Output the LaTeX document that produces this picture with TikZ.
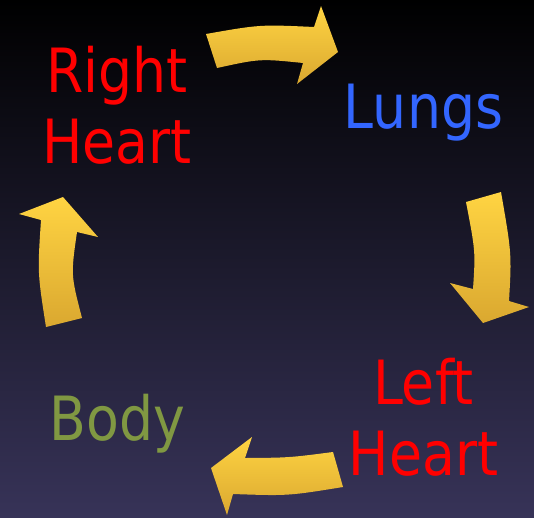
\documentclass[tikz,border=0pt]{standalone}
\usepackage{fontspec}
\setmainfont{DejaVu Sans}[FakeStretch=0.88]
\usepackage{xcolor}
\newcommand{\figbig}{\fontsize{61}{71}\selectfont}
\definecolor{hcRed}{RGB}{255,0,0}
\definecolor{hcBlue}{RGB}{51,102,255}
\definecolor{hcGreen}{RGB}{128,152,66}
\definecolor{hcGoldTop}{RGB}{255,212,66}
\definecolor{hcGoldBot}{RGB}{218,168,48}
\definecolor{hcSkyTop}{RGB}{0,0,0}
\definecolor{hcSkyBot}{RGB}{55,51,88}
\tikzset{
  hcLabel/.style={font=\figbig, align=center, inner sep=0pt, anchor=base},
  hcArrow/.style={top color=hcGoldTop, bottom color=hcGoldBot, draw=none}
}

\begin{document}
\begin{tikzpicture}[x=1pt,y=-1pt]
\shade[top color=hcSkyTop, bottom color=hcSkyBot] (0,0) rectangle (534,517);
\useasboundingbox (0,0) rectangle (534,517);
% stations of the loop (base = last line)
\node[hcLabel, text=hcRed] (rheart) at (117,163) {Right\\Heart};
\node[hcLabel, text=hcBlue] (lungs) at (423.5,128) {Lungs};
\node[hcLabel, text=hcRed] (lheart) at (423.5,475) {Left\\Heart};
\node[hcLabel, text=hcGreen] (body) at (117.5,440) {Body};
% curved block arrows
\shade[hcArrow] (206,34) .. controls (260,24.5) .. (314,27) -- (321,6) -- (338,52)
  -- (297,84) -- (303,63) .. controls (260,58.6) .. (217,68) -- cycle;
\shade[hcArrow] (466,202) -- (501,192) .. controls (511.7,253.8) .. (509,301) -- (529,307)
  -- (483,323) -- (450,283) -- (473,289) .. controls (475.5,251.5) .. (466,202) -- cycle;
\shade[hcArrow] (333,452) -- (343,487) .. controls (288,495.9) .. (233,494) -- (227,515)
  -- (211,468) -- (252,437) -- (245,458) .. controls (289,457.7) .. (333,452) -- cycle;
\shade[hcArrow] (46,327) .. controls (37.5,272.8) .. (41,220) -- (19,214) -- (63,197)
  -- (98,237) -- (77,232) .. controls (70.8,275) .. (82,318) -- cycle;
\end{tikzpicture}
\end{document}
